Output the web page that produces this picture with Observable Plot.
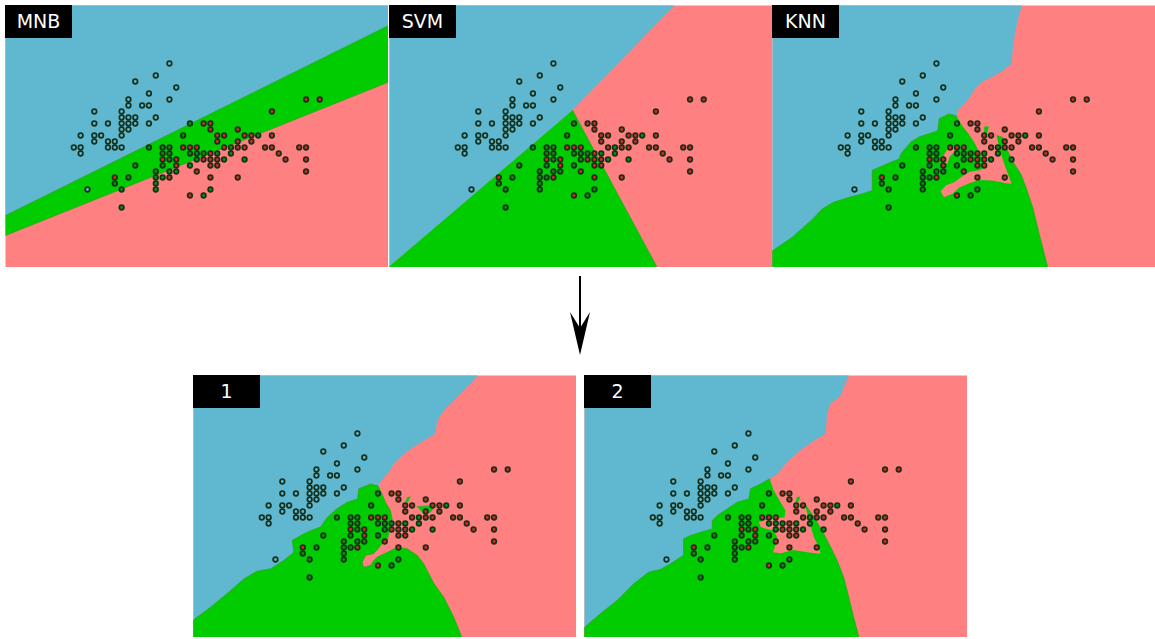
<!DOCTYPE html>
<html><head><meta charset="utf-8">
<script src="https://cdn.jsdelivr.net/npm/d3@7"></script>
<script src="https://cdn.jsdelivr.net/npm/@observablehq/plot@0.6"></script>
<style>
body{margin:0;background:#fff;font-family:"DejaVu Sans",sans-serif;}
#root{position:relative;width:1155px;height:639px;overflow:hidden;}
.panel{position:absolute;width:383px;height:262px;}
.panel svg{display:block;}
.label{position:absolute;left:0;top:0;width:67px;height:33px;background:#000;color:#fff;font-size:19px;line-height:33px;text-align:center;}
</style></head><body><div id="root"></div>
<script>
// ---- data: feature grid coordinates (u, v) ----
const panelNames = ["MNB", "SVM", "KNN", "1", "2"];
const bluePts = [[24,34],[22,32],[19,31],[25,30],[21,29],[18,28],[24,28],[18,27],[20,27],[21,27],[13,26],[17,26],[17,25],[18,25],[19,25],[22,25],[13,24],[15,24],[17,24],[18,24],[19,24],[21,24],[17,23],[18,23],[11,22],[13,22],[14,22],[17,22],[13,21],[15,21],[16,21],[10,20],[11,20],[15,20],[16,20],[17,20],[11,19],[12,13]];
const redPts = [[39,26],[44,28],[46,28],[29,24],[30,24],[30,23],[34,23],[31,22],[32,22],[35,22],[36,22],[39,22],[31,21],[34,21],[36,21],[26,20],[27,20],[28,20],[32,20],[34,20],[35,20],[38,20],[39,20],[43,20],[44,20],[30,19],[40,19],[23,18],[25,18],[29,18],[30,18],[31,18],[41,18],[44,18],[25,17],[30,17],[31,17],[28,16],[44,16],[16,15],[24,15],[30,15],[34,15],[27,12]];
const greenPts = [[27,24],[26,22],[37,22],[21,20],[23,20],[24,20],[33,20],[23,19],[24,19],[27,19],[28,19],[29,19],[31,19],[33,19],[24,18],[28,18],[32,18],[35,18],[19,17],[23,17],[27,17],[22,16],[24,16],[25,16],[18,15],[22,15],[23,15],[16,14],[22,14],[17,13],[22,13],[30,13],[29,12],[17,10]];

// decision regions (polygons in the same feature units)
const mnbBlue = [[0,43.67],[56.07,43.67],[56.07,40.33],[0,8.67]];
const mnbGreen = [[0,8.67],[56.07,40.33],[56.07,30.9],[0,5.33]];

const svmBlue = [[0,43.67],[41.7,43.67],[26.8,26.2],[0,0.2]];
const svmGreen = [[26.8,26.2],[39.2,0],[0,0],[0,0.2]];

const knnBlue = [[0,43.67],[36.5,43.67],[35.9,41.2],[35.5,38.95],[35.2,36.7],[35.0,33.95],[33.7,32.8],[32.2,31.8],[30.7,30.9],[29.8,30.05],[29.2,28.95],[28.55,27.85],[27.8,27.0],[27.2,26.2],[26.9,25.3],[25.8,25.6],[24.4,24.8],[24.2,22.8],[22.9,22.3],[21.5,21.8],[20.25,20.9],[18.8,18.95],[18.55,18.1],[17.3,17.55],[14.6,16.2],[14.6,12.85],[13.2,12.3],[11.2,11.7],[9.0,10.9],[7.3,9.8],[5.9,8.1],[2.9,5.05],[0,2.8]];
const knnGreen = [[0,0],[0,2.8],[2.9,5.05],[5.9,8.1],[7.3,9.8],[9.0,10.9],[11.2,11.7],[13.2,12.3],[14.6,12.85],[14.6,16.2],[17.3,17.55],[18.55,18.1],[18.8,18.95],[20.25,20.9],[21.5,21.8],[22.9,22.3],[24.2,22.8],[24.4,24.8],[25.8,25.6],[26.9,25.3],[32.8,22.0],[33.7,21.7],[34.2,20.05],[35.1,17.8],[36.35,15.6],[37.1,13.4],[38.1,10.05],[39.05,5.6],[40.3,0]];
const knnPinkBay = [[26.9,25.3],[27.9,23.4],[28.7,22.3],[29.5,20.9],[30.3,19.2],[31.0,17.8],[31.2,16.7],[30.3,16.2],[28.8,15.9],[27.6,15.05],[26.6,14.2],[25.4,13.7],[24.6,12.7],[25.1,11.7],[26.35,12.3],[27.3,13.3],[28.8,14.05],[30.3,14.6],[32.2,14.5],[34.2,14.05],[35.0,13.95],[34.65,15.05],[34.1,16.7],[33.6,18.4],[33.2,20.05],[32.8,22.0],[31.7,23.4]];
const knnPinkPocket = [[25.9,20.3],[26.75,20.05],[26.6,19.2],[25.9,18.4],[25.6,17.3],[25.0,17.55],[25.1,18.8]];
const knnIsland = [[31.0,23.5],[31.7,23.5],[31.4,22.4],[31.0,22.4]];

const p1Blue = [[0,43.67],[41.6,43.67],[40.55,42.3],[38.6,40.05],[36.65,37.8],[35.7,36.2],[35.4,33.95],[33.7,32.8],[31.8,31.45],[30.3,30.05],[29.3,28.95],[28.8,27.85],[27.9,26.7],[27.0,25.3],[25.9,25.6],[24.2,24.8],[24.0,23.1],[22.5,22.55],[21.0,21.45],[19.6,20.05],[18.6,18.4],[17.1,17.8],[15.7,17.0],[14.45,16.2],[14.7,14.2],[13.2,12.85],[11.3,11.45],[9.3,11.05],[7.4,9.8],[5.4,7.8],[2.5,5.05],[0,2.95]];
const p1Green = [[0,0],[0,2.95],[2.5,5.05],[5.4,7.8],[7.4,9.8],[9.3,11.05],[11.3,11.45],[13.2,12.85],[14.7,14.2],[14.45,16.2],[15.7,17.0],[17.1,17.8],[18.6,18.4],[19.6,20.05],[21.0,21.45],[22.5,22.55],[24.0,23.1],[24.2,24.8],[25.9,25.6],[27.0,25.3],[27.6,23.95],[28.1,22.55],[28.8,21.2],[29.1,19.8],[28.7,17.85],[28.4,16.45],[27.6,15.6],[26.8,14.5],[26.3,13.95],[25.2,13.7],[24.7,12.55],[24.9,11.7],[25.9,12.0],[26.4,12.85],[26.9,13.4],[28.4,14.2],[29.8,15.05],[31.3,14.8],[32.75,13.7],[33.7,12.3],[35.2,9.0],[36.65,6.7],[38.1,3.4],[39.3,0]];
const p1IslandA = [[32.75,21.8],[35.4,22.0],[34.7,20.9],[33.7,20.6]];
const p1IslandB = [[31.3,23.4],[31.8,23.5],[31.4,22.55],[31.0,22.55]];

const p2Blue = [[0,43.67],[38.7,43.67],[37.95,41.7],[37.5,40.3],[36.0,38.95],[35.5,37.3],[35.3,33.95],[33.6,32.8],[31.9,31.45],[30.4,30.05],[29.4,28.95],[28.7,27.85],[27.95,27.0],[27.1,26.45],[25.8,25.6],[24.3,24.8],[24.05,23.1],[22.35,22.55],[20.9,21.45],[19.4,20.3],[18.7,19.5],[18.7,18.1],[17.0,17.55],[15.5,17.0],[14.5,16.45],[14.5,13.7],[12.6,12.3],[11.1,11.35],[9.4,10.9],[7.2,8.95],[4.8,6.2],[2.3,3.95],[0,1.7]];
const p2Green = [[0,0],[0,1.7],[2.3,3.95],[4.8,6.2],[7.2,8.95],[9.4,10.9],[11.1,11.35],[12.6,12.3],[14.5,13.7],[14.5,16.45],[15.5,17.0],[17.0,17.55],[18.7,18.1],[18.7,19.5],[19.4,20.3],[20.9,21.45],[22.35,22.55],[24.05,23.1],[24.3,24.8],[25.8,25.6],[27.1,26.45],[32.1,22.55],[33.6,20.05],[34.8,17.8],[35.8,15.6],[37.0,12.85],[37.95,10.05],[38.7,6.7],[39.4,3.4],[40.2,0]];
const p2PinkBay = [[27.1,26.45],[27.7,24.5],[28.7,22.55],[29.4,21.2],[29.3,20.05],[27.7,19.8],[26.5,19.6],[25.5,19.2],[25.8,18.4],[26.75,18.1],[27.7,17.85],[28.2,16.7],[28.0,15.6],[27.6,14.2],[28.7,14.05],[30.6,14.6],[32.6,14.2],[34.55,13.95],[34.3,15.05],[33.6,16.7],[33.0,18.95],[32.5,21.2],[32.1,22.55],[30.6,23.95],[28.7,25.6]];
const p2Island = [[31.1,23.4],[31.6,23.5],[31.3,22.55],[30.9,22.55]];

// ---- styles ----
const C = {blue:"#5fb8d0", green:"#00cc00", pink:"#ff8080",
           dotBlue:"#5fb8d0", dotGreen:"#0a8f0a", dotRed:"#d42a22", ring:"#15301a", edge:"#1fa51f"};

function poly(data, fill, edge) {
  return Plot.line(data, {x: d => d[0], y: d => d[1], fill, stroke: edge ? C.edge : "none", strokeWidth: edge ? 0.6 : 0, curve: "linear"});
}
function dots(data, fill) {
  return Plot.dot(data, {x: d => d[0], y: d => d[1], r: 2.3, fill, stroke: C.ring, strokeWidth: 1.7});
}

const panels = [
  {name: panelNames[0], left: 5, top: 5, layers: [[mnbBlue, C.blue], [mnbGreen, C.green, true]]},
  {name: panelNames[1], left: 389, top: 5, layers: [[svmBlue, C.blue], [svmGreen, C.green, true]]},
  {name: panelNames[2], left: 772, top: 5, layers: [[knnBlue, C.blue], [knnGreen, C.green, true], [knnPinkBay, C.pink], [knnPinkPocket, C.pink], [knnIsland, C.green]]},
  {name: panelNames[3], left: 193, top: 375, layers: [[p1Blue, C.blue], [p1Green, C.green, true], [p1IslandA, C.green, true], [p1IslandB, C.green]]},
  {name: panelNames[4], left: 584, top: 375, layers: [[p2Blue, C.blue], [p2Green, C.green, true], [p2PinkBay, C.pink], [p2Island, C.green]]}
];

const root = document.getElementById("root");
for (const p of panels) {
  const div = document.createElement("div");
  div.className = "panel";
  div.style.left = p.left + "px";
  div.style.top = p.top + "px";
  const chart = Plot.plot({
    width: 383, height: 262, margin: 0,
    x: {domain: [0, 56.07], axis: null},
    y: {domain: [0, 43.67], axis: null},
    marks: [
      Plot.frame({fill: C.pink, stroke: "none"}),
      ...p.layers.map(([d, f, e]) => poly(d, f, e)),
      dots(bluePts, C.dotBlue),
      dots(greenPts, C.dotGreen),
      dots(redPts, C.dotRed)
    ]
  });
  div.appendChild(chart);
  const lab = document.createElement("div");
  lab.className = "label";
  lab.textContent = p.name;
  div.appendChild(lab);
  root.appendChild(div);
}

// connecting arrow (decoration)
const arrow = document.createElementNS("http://www.w3.org/2000/svg", "svg");
arrow.setAttribute("width", 40); arrow.setAttribute("height", 90);
arrow.style.position = "absolute"; arrow.style.left = "560px"; arrow.style.top = "270px";
arrow.innerHTML = '<line x1="20" y1="6" x2="20" y2="60" stroke="#000" stroke-width="2"/><polygon points="10,42 20,85 30,42 20,58" fill="#000"/>';
root.appendChild(arrow);
</script>
</body></html>
